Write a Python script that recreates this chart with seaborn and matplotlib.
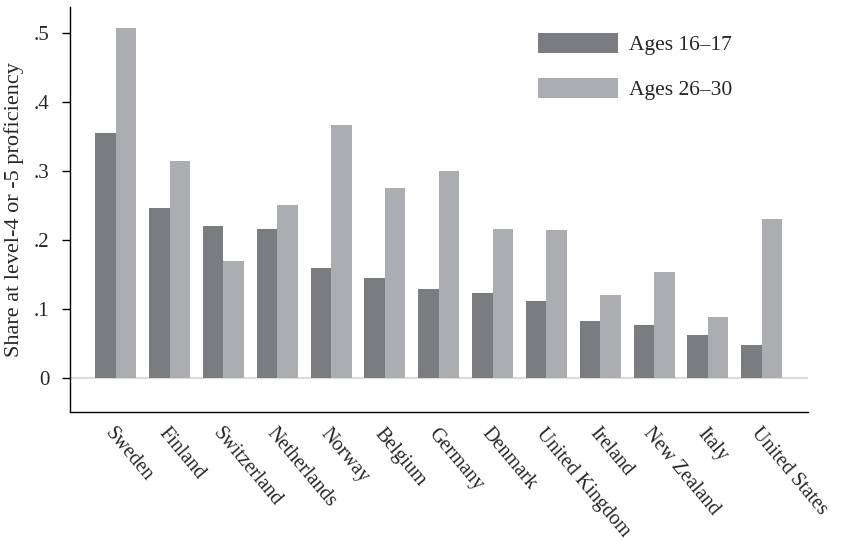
import numpy as np
import pandas as pd
import matplotlib
matplotlib.use("Agg")
import matplotlib.pyplot as plt
import seaborn as sb

# values
countries = ["Sweden", "Finland", "Switzerland", "Netherlands", "Norway", "Belgium",
             "Germany", "Denmark", "United Kingdom", "Ireland", "New Zealand", "Italy",
             "United States"]
ages_16_17 = [0.355, 0.246, 0.220, 0.216, 0.160, 0.145, 0.129, 0.123, 0.112, 0.082,
              0.077, 0.062, 0.048]
ages_26_30 = [0.507, 0.314, 0.169, 0.251, 0.366, 0.275, 0.299, 0.216, 0.214, 0.121,
              0.153, 0.088, 0.230]
groups = ["Ages 16\u201317", "Ages 26\u201330"]
yticks = [0, 0.1, 0.2, 0.3, 0.4, 0.5]
ytick_labels = ["0", ".1", ".2", ".3", ".4", ".5"]

df = pd.DataFrame({
    "country": countries * 2,
    "group": [groups[0]] * len(countries) + [groups[1]] * len(countries),
    "share": ages_16_17 + ages_26_30,
})

sb.set_style("white")
plt.rcParams["font.family"] = ["Liberation Serif", "DejaVu Serif"]

fig = plt.figure(figsize=(8.41, 5.47), dpi=100)
ax = fig.add_axes([70 / 841, 1 - 412 / 547, 738 / 841, 405 / 547])

ax.axhline(0, color="#dcdcdc", lw=1.6, zorder=0)
sb.barplot(data=df, x="country", y="share", hue="group", order=countries,
           hue_order=groups, palette=["#7b7c80", "#acadb1"], width=0.76,
           linewidth=0, saturation=1, ax=ax, zorder=2)

ax.set_xlim(-0.85, 12.86)
ax.set_ylim(-0.049, 0.537)
ax.set_yticks(yticks)
ax.set_yticklabels(ytick_labels, fontsize=15)
ax.set_xlabel("")
ax.set_ylabel("Share at level-4 or -5 proficiency", fontsize=16, labelpad=7)
ax.tick_params(axis="y", left=True, length=6, width=1, color="black", pad=9)
ax.tick_params(axis="x", bottom=False, length=0, pad=9)
for lab in ax.get_xticklabels():
    lab.set_rotation(-50)
    lab.set_rotation_mode("anchor")
    lab.set_ha("left")
    lab.set_va("top")
    lab.set_fontsize(14.5)

for s in ["top", "right"]:
    ax.spines[s].set_visible(False)
for s in ["left", "bottom"]:
    ax.spines[s].set_color("black")
    ax.spines[s].set_linewidth(1)

ax.legend(title=None, frameon=False, fontsize=15.5, loc="upper left",
          bbox_to_anchor=(538 / 841, 1 - 33 / 547), bbox_transform=fig.transFigure,
          borderaxespad=0, borderpad=0, handlelength=3.72, handleheight=1.02,
          handletextpad=0.5, labelspacing=1.07)

fig.savefig("out.png", dpi=100)
